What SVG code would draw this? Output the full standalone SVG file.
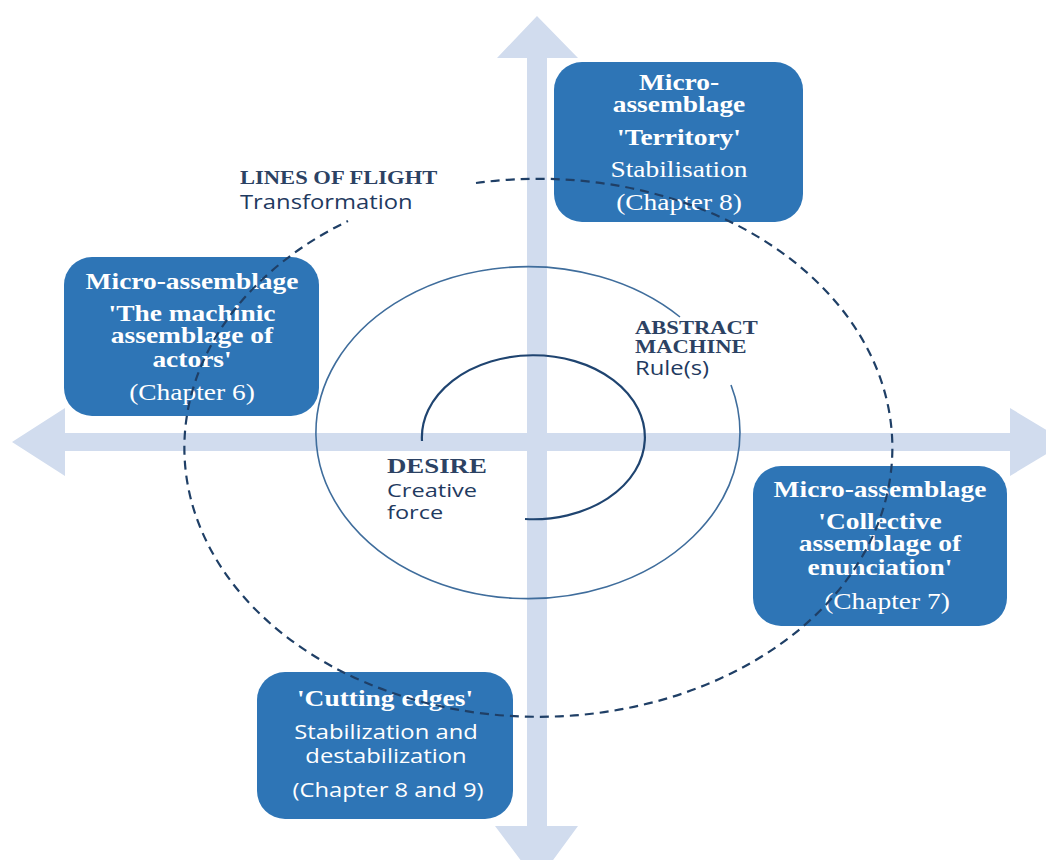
<svg xmlns="http://www.w3.org/2000/svg" width="1046" height="860" viewBox="0 0 1046 860">
<style>
.arrow{fill:#D1DCEE}
.box{fill:#2E75B6}
.tb{font-family:"Liberation Serif",serif;font-weight:bold;font-size:22.5px;fill:#fff;text-anchor:middle}
.tr{font-family:"Liberation Serif",serif;font-size:22.5px;fill:#fff;text-anchor:middle}
.ts{font-family:"Open Sans",sans-serif;font-size:19.5px;fill:#fff;text-anchor:middle}
.lb{font-family:"Liberation Serif",serif;font-weight:bold;font-size:18.5px;fill:#2c4263}
.ls{font-family:"Open Sans",sans-serif;font-size:19.5px;fill:#1f3a60}
.mid{fill:none;stroke:#3f6d9c;stroke-width:1.6}
.inner{fill:none;stroke:#1f4470;stroke-width:2.2}
.dash{fill:none;stroke:#1f3f66;stroke-width:2.2;stroke-dasharray:9 6}
</style>
<rect width="1046" height="860" fill="#fff"/>
<g id="axes">
<polygon class="arrow" points="537,16 578,58 547,58 547,826 578,826 537,882 495,826 527,826 527,58 497,58"/>
<polygon class="arrow" points="12,442 65,408 65,433 1010,433 1010,408 1066,442 1010,476 1010,451 65,451 65,476"/>
</g>
<g id="spiral">
<path class="inner" d="M 422 441 A 111.5 82 0 1 1 525 519"/>
<path class="mid" d="M 731 385 A 212 166 0 1 1 680 317"/>
</g>
<g id="labels">
<text class="lb" transform="translate(240,184) scale(1.22 1)">LINES OF FLIGHT</text>
<text class="ls" transform="translate(240,209) scale(1.22 1)">Transformation</text>
<text class="lb" transform="translate(635,334) scale(1.22 1)">ABSTRACT</text>
<text class="lb" transform="translate(635,353) scale(1.22 1)">MACHINE</text>
<text class="ls" transform="translate(635,375) scale(1.22 1)">Rule(s)</text>
<text class="lb" style="font-size:22px" transform="translate(387,473) scale(1.22 1)">DESIRE</text>
<text class="ls" style="font-size:19px" transform="translate(387,497) scale(1.24 1)"><tspan x="0" y="0">Creative</tspan><tspan x="0" y="22">force</tspan></text>
</g>
<g id="node-territory">
<rect class="box" x="554" y="62" width="249" height="160" rx="28"/>
<text class="tb" transform="translate(679,90) scale(1.22 1)">Micro-</text>
<text class="tb" transform="translate(679,112) scale(1.22 1)">assemblage</text>
<text class="tb" transform="translate(679,145) scale(1.22 1)">'Territory'</text>
<text class="tr" transform="translate(679,177) scale(1.22 1)">Stabilisation</text>
<text class="tr" transform="translate(679,210) scale(1.22 1)">(Chapter 8)</text>
</g>
<g id="node-machinic">
<rect class="box" x="64" y="257" width="255" height="159" rx="28"/>
<text class="tb" transform="translate(192,289) scale(1.22 1)">Micro-assemblage</text>
<text class="tb" transform="translate(192,321) scale(1.22 1)">'The machinic</text>
<text class="tb" transform="translate(192,343) scale(1.22 1)">assemblage of</text>
<text class="tb" transform="translate(192,367) scale(1.22 1)">actors'</text>
<text class="tr" transform="translate(192,400) scale(1.22 1)">(Chapter 6)</text>
</g>
<g id="node-collective">
<rect class="box" x="753" y="466" width="254" height="160" rx="28"/>
<text class="tb" transform="translate(880,497) scale(1.22 1)">Micro-assemblage</text>
<text class="tb" transform="translate(880,529) scale(1.22 1)">'Collective</text>
<text class="tb" transform="translate(880,551) scale(1.22 1)">assemblage of</text>
<text class="tb" transform="translate(880,575) scale(1.22 1)">enunciation'</text>
<text class="tr" transform="translate(887,609) scale(1.22 1)">(Chapter 7)</text>
</g>
<g id="node-cutting">
<rect class="box" x="257" y="672" width="256" height="147" rx="28"/>
<text class="tb" transform="translate(385,706) scale(1.22 1)">'Cutting edges'</text>
<text class="ts" transform="translate(386,739) scale(1.22 1)">Stabilization and</text>
<text class="ts" transform="translate(386,763) scale(1.22 1)">destabilization</text>
<text class="ts" transform="translate(388,797) scale(1.22 1)">(Chapter 8 and 9)</text>
</g>
<g id="connectors">
<path class="dash" d="M 476 183 A 354 269 0 1 1 348 221"/>
</g>
</svg>
